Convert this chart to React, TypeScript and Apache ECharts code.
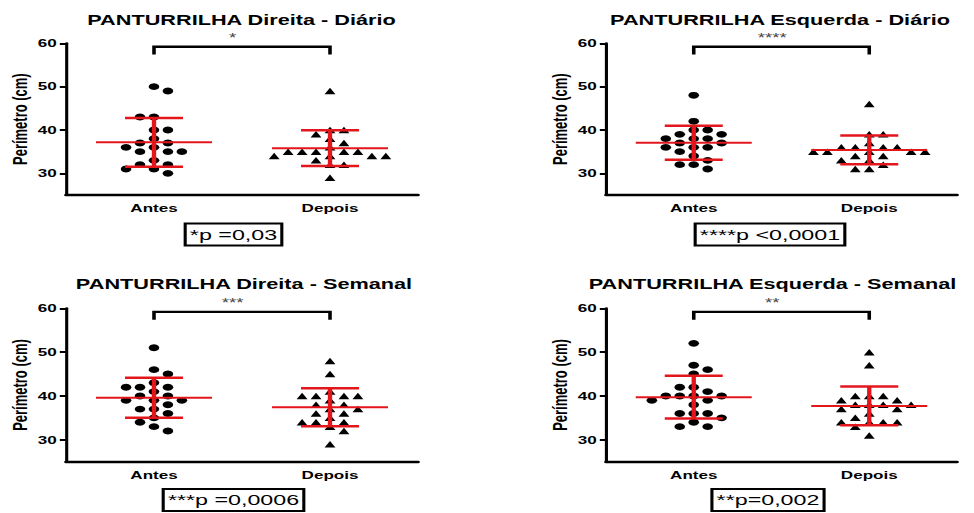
import React, { useEffect, useRef } from 'react';
import * as echarts from 'echarts';

// ---------- data ----------
const categories = ['Antes', 'Depois'];
const yTickValues = [30, 40, 50, 60];
const yMin = 25;
const yMax = 60;
const yAxisName = 'Perímetro (cm)';

const titles = [
  'PANTURRILHA Direita - Diário',
  'PANTURRILHA Esquerda - Diário',
  'PANTURRILHA Direita - Semanal',
  'PANTURRILHA Esquerda - Semanal',
];
const stars = ['*', '****', '***', '**'];
const pTexts = ['*p =0,03', '****p <0,0001', '***p =0,0006', '**p=0,002'];

const dirDiarioAntes = [50, 49, 43, 43, 40, 40, 38, 37, 37, 36, 36, 35, 35, 35, 33, 32, 32, 31, 31, 30];
const dirDiarioDepois = [49, 40, 40, 39, 38, 37, 36, 35, 35, 35, 35, 35, 34, 34, 34, 34, 33, 32, 32, 29];
const esqDiarioAntes = [48, 42, 40, 40, 39, 39, 38, 38, 38, 37, 37, 36, 36, 36, 35, 34, 33, 32, 32, 31];
const esqDiarioDepois = [46, 39, 39, 37, 36, 36, 36, 36, 35, 35, 35, 35, 35, 34, 34, 33, 33, 32, 31, 31];
const dirSemanalAntes = [51, 46, 45, 43, 42, 42, 42, 41, 40, 40, 39, 39, 39, 38, 37, 37, 36, 35, 34, 33, 32];
const dirSemanalDepois = [48, 45, 41, 40, 40, 40, 40, 39, 38, 38, 37, 37, 36, 36, 35, 34, 34, 34, 33, 32, 29];
const esqSemanalAntes = [52, 47, 46, 45, 42, 42, 41, 40, 40, 40, 40, 39, 39, 38, 36, 36, 36, 35, 34, 33, 33];
const esqSemanalDepois = [50, 47, 40, 40, 40, 39, 39, 38, 38, 38, 38, 37, 37, 36, 35, 34, 34, 34, 34, 33, 31];

const panelData = [
  [dirDiarioAntes, dirDiarioDepois],
  [esqDiarioAntes, esqDiarioDepois],
  [dirSemanalAntes, dirSemanalDepois],
  [esqSemanalAntes, esqSemanalDepois],
];

// ---------- layout ----------
const OUT_W = 974;
const H = 513;
const W = 628;
const SX = OUT_W / W;
const nx = (px: number) => px / SX;
const FONT = "'Liberation Sans', Arial, Helvetica, sans-serif";
const RED = '#e3161c';

const gridBoxes = [
  { l: 66, r: 418, t: 43.3, b: 195 },
  { l: 606, r: 957, t: 43.3, b: 195 },
  { l: 66, r: 418, t: 308.3, b: 461.7 },
  { l: 606, r: 957, t: 308.3, b: 461.7 },
];
const titlePos = [
  [241.5, 20],
  [780, 20],
  [244, 284.5],
  [772.5, 284.5],
];
const boxPos = [
  [233.5, 234.5],
  [770, 234.5],
  [233.5, 500],
  [768, 500],
];

const BRACKET_TOP = 59.2;
const BRACKET_END = 57.4;

function mean(a: number[]) {
  return a.reduce((s, v) => s + v, 0) / a.length;
}
function sd(a: number[]) {
  const m = mean(a);
  return Math.sqrt(a.reduce((s, v) => s + (v - m) * (v - m), 0) / (a.length - 1));
}

// simple beeswarm layout: returns horizontal offsets in pixels
function swarm(values: number[], pxPerY: number): number[] {
  const order = values.map((_, i) => i).sort((a, b) => values[b] - values[a]);
  const placed: { x: number; y: number }[] = [];
  const offs = new Array(values.length).fill(0);
  const STEP = 4.5;
  const DX = 8.6;
  const DY = 7;
  let flip = 1;
  for (const i of order) {
    const y = values[i] * pxPerY;
    const free = (x: number) =>
      placed.every((p) => {
        const dx = (p.x - x) / DX;
        const dy = (p.y - y) / DY;
        return dx * dx + dy * dy >= 1;
      });
    let chosen = 0;
    for (let k = 0; k < 60; k++) {
      if (k === 0) {
        if (free(0)) {
          chosen = 0;
          break;
        }
        continue;
      }
      const a = flip * k * STEP;
      if (free(a)) {
        chosen = a;
        flip = -flip;
        break;
      }
      if (free(-a)) {
        chosen = -a;
        flip = -flip;
        break;
      }
    }
    placed.push({ x: chosen, y });
    offs[i] = chosen;
  }
  return offs;
}

function buildOption() {
  const grid: any[] = [];
  const xAxis: any[] = [];
  const yAxis: any[] = [];
  const series: any[] = [];
  const graphic: any[] = [];

  gridBoxes.forEach((g, i) => {
    const left = nx(g.l);
    const width = nx(g.r) - nx(g.l);
    const height = g.b - g.t;
    grid.push({ left, top: g.t, width, height, containLabel: false });
    const pxPerX = width / 2;
    const pxPerY = height / (yMax - yMin);

    xAxis.push({
      type: 'category',
      gridIndex: i,
      data: categories,
      boundaryGap: true,
      axisLine: { show: true, lineStyle: { color: '#000', width: 2.4 } },
      axisTick: { show: false },
      axisLabel: { color: '#000', fontFamily: FONT, fontWeight: 'bold', fontSize: 11, margin: 8 },
      splitLine: { show: false },
    });
    xAxis.push({ type: 'value', gridIndex: i, min: 0, max: 2, show: false });

    yAxis.push({
      type: 'value',
      gridIndex: i,
      min: yMin,
      max: yMax,
      name: yAxisName,
      nameLocation: 'middle',
      nameRotate: 90,
      nameGap: 23,
      nameTextStyle: { color: '#000', fontFamily: FONT, fontSize: 13, fontWeight: 'bold' },
      axisLine: { show: true, onZero: false, lineStyle: { color: '#000', width: 2 } },
      axisTick: { show: true, customValues: yTickValues, length: 4, lineStyle: { color: '#000', width: 2 } },
      axisLabel: { customValues: yTickValues, color: '#000', fontFamily: FONT, fontWeight: 'bold', fontSize: 11, margin: 6 },
      splitLine: { show: false },
    });

    const [antes, depois] = panelData[i];
    const offA = swarm(antes, pxPerY);
    const offD = swarm(depois, pxPerY);

    series.push({
      type: 'scatter',
      xAxisIndex: 2 * i + 1,
      yAxisIndex: i,
      symbol: 'circle',
      symbolSize: 6.8,
      itemStyle: { color: '#000', opacity: 1 },
      data: antes.map((v, k) => [0.5 + offA[k] / pxPerX, v]),
      z: 2,
    });
    series.push({
      type: 'scatter',
      xAxisIndex: 2 * i + 1,
      yAxisIndex: i,
      symbol: 'triangle',
      symbolSize: [7, 6.5],
      itemStyle: { color: '#000', opacity: 1 },
      data: depois.map((v, k) => [1.5 + offD[k] / pxPerX, v]),
      z: 2,
    });

    series.push({
      type: 'custom',
      xAxisIndex: 2 * i + 1,
      yAxisIndex: i,
      z: 5,
      clip: false,
      data: [
        [0.5, mean(antes), sd(antes)],
        [1.5, mean(depois), sd(depois)],
      ],
      renderItem: (params: any, api: any) => {
        const x = api.value(0);
        const m = api.value(1);
        const s = api.value(2);
        const c = api.coord([x, m]);
        const t = api.coord([x, m + s]);
        const b = api.coord([x, m - s]);
        const MH = nx(58);
        const CH = nx(29);
        return {
          type: 'group',
          children: [
            { type: 'line', shape: { x1: c[0] - MH, y1: c[1], x2: c[0] + MH, y2: c[1] }, style: { stroke: RED, lineWidth: 2 } },
            { type: 'line', shape: { x1: t[0], y1: t[1], x2: b[0], y2: b[1] }, style: { stroke: RED, lineWidth: 2.8 } },
            { type: 'line', shape: { x1: t[0] - CH, y1: t[1], x2: t[0] + CH, y2: t[1] }, style: { stroke: RED, lineWidth: 2.5 } },
            { type: 'line', shape: { x1: b[0] - CH, y1: b[1], x2: b[0] + CH, y2: b[1] }, style: { stroke: RED, lineWidth: 2.5 } },
          ],
        };
      },
    });

    const star = stars[i];
    series.push({
      type: 'custom',
      xAxisIndex: 2 * i + 1,
      yAxisIndex: i,
      z: 4,
      clip: false,
      encode: { x: [0, 1], y: [2, 3] },
      data: [[0.5, 1.5, BRACKET_TOP, BRACKET_END]],
      renderItem: (params: any, api: any) => {
        const a = api.coord([api.value(0), api.value(2)]);
        const bb = api.coord([api.value(1), api.value(2)]);
        const e = api.coord([api.value(0), api.value(3)]);
        return {
          type: 'group',
          children: [
            {
              type: 'polyline',
              shape: { points: [[a[0], e[1]], [a[0], a[1]], [bb[0], bb[1]], [bb[0], e[1]]] },
              style: { stroke: '#000', lineWidth: 2.3, fill: 'none' },
            },
            {
              type: 'text',
              x: (a[0] + bb[0]) / 2 - 6,
              y: a[1] - 3,
              style: { text: star, align: 'center', verticalAlign: 'bottom', fontSize: 12, fontFamily: FONT, fill: '#444' },
            },
          ],
        };
      },
    });

    graphic.push({
      type: 'text',
      x: nx(titlePos[i][0]),
      y: titlePos[i][1],
      style: {
        text: titles[i],
        align: 'center',
        verticalAlign: 'middle',
        fontSize: 14,
        fontWeight: 'bold',
        fontFamily: FONT,
        fill: '#000',
      },
    });
    graphic.push({
      type: 'text',
      x: nx(boxPos[i][0]),
      y: boxPos[i][1],
      style: {
        text: pTexts[i],
        align: 'center',
        verticalAlign: 'middle',
        fontSize: 15,
        fontFamily: FONT,
        fill: '#000',
        borderColor: '#000',
        borderWidth: 2,
        padding: [4, 3, 3, 3],
      },
    });
  });

  return {
    animation: false,
    backgroundColor: '#fff',
    grid,
    xAxis,
    yAxis,
    series,
    graphic,
  };
}

export default function App() {
  const ref = useRef<HTMLDivElement>(null);
  useEffect(() => {
    if (!ref.current) return;
    const chart = echarts.init(ref.current, null, { renderer: 'svg' });
    chart.setOption(buildOption() as any);
    return () => chart.dispose();
  }, []);
  return (
    <div
      ref={ref}
      style={{
        position: 'fixed',
        left: 0,
        top: 0,
        width: W,
        height: H,
        transform: `scaleX(${SX})`,
        transformOrigin: '0 0',
        background: '#fff',
      }}
    />
  );
}
